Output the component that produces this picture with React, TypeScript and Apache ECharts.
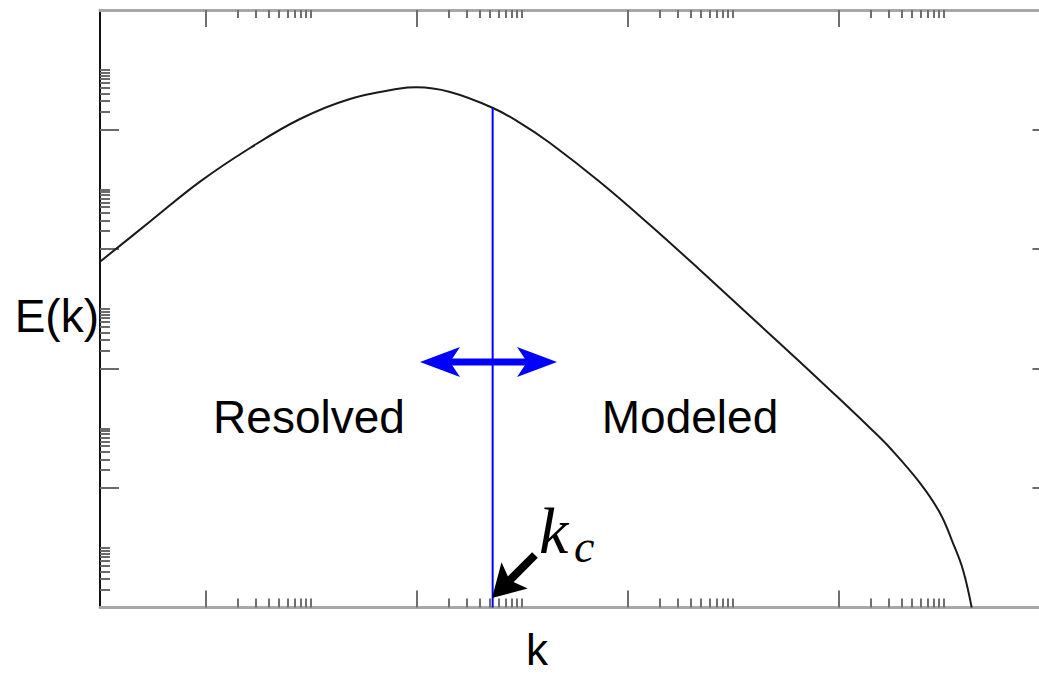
import React, { useEffect, useRef } from 'react';
import * as echarts from 'echarts';

// Energy spectrum E(k) (log-log)
const kValues = [0.1, 0.298, 0.887, 2.64, 7.87, 23.4, 69.8, 100, 208, 531, 957, 1841, 5483, 16330, 48640, 144900, 431500, 830000, 1990000, 3080000, 5930000, 9160000, 12160000, 15140000, 18300000];
const energyValues = [6.12e-5, 2.88e-4, 1.34e-3, 4.9e-3, 1.5e-2, 3.24e-2, 4.85e-2, 5.08e-2, 4.24e-2, 2.29e-2, 1.29e-2, 5.94e-3, 1.32e-3, 2.52e-4, 4.45e-5, 7.57e-6, 1.28e-6, 4.37e-7, 1.01e-7, 4.67e-8, 1.21e-8, 3.82e-9, 1.2e-9, 4.25e-10, 1e-10];

// cutoff wavenumber k_c
const kc = 527;
const kcTopE = 2.29e-2;

// blue double arrow: tip positions [k, E]
const doubleArrowLeft = [108, 1.28e-6];
const doubleArrowRight = [2148, 1.28e-6];

// black arrow pointing to k_c: tail and tip [k, E]
const kcArrowTail = [1327, 7.57e-10];
const kcArrowTip = [520, 1.44e-10];

// axis extents
const xMin = 0.1;
const xMax = 1e8;
const yMin = 1e-10;
const yMax = 1;

// tick positions
const xMajorTicks = [1, 100, 1e4, 1e6];
const yMajorTicks = [1e-8, 1e-6, 1e-4, 1e-2];
const minorMultipliers = [2, 3, 4, 5, 6, 7, 8, 9, 10];
const xMinorBases = [1, 100, 1e4, 1e6];
const yMinorBases = [1e-10, 1e-8, 1e-6, 1e-4, 1e-2];

const xMinorTicks = xMinorBases.flatMap((b) => minorMultipliers.map((m) => m * b));
const yMinorTicks = yMinorBases.flatMap((b) => minorMultipliers.map((m) => m * b));

const TEXT_FONT = 'Liberation Sans, Arial, Helvetica, sans-serif';
const MATH_FONT = 'Liberation Serif, DejaVu Serif, serif';

function xAxisDef(position: 'top' | 'bottom', ticks: number[], len: number, showLine: boolean) {
  return {
    type: 'log',
    position,
    min: xMin,
    max: xMax,
    axisLine: { show: showLine, lineStyle: { color: '#a8a8a8', width: 3 } },
    axisTick: { show: true, inside: true, length: len, customValues: ticks, lineStyle: { color: '#6f6f6f', width: 2 } },
    axisLabel: { show: false },
    splitLine: { show: false },
    minorTick: { show: false },
  };
}

function yAxisDef(position: 'left' | 'right', ticks: number[], len: number, showLine: boolean, lineColor: string) {
  return {
    type: 'log',
    position,
    min: yMin,
    max: yMax,
    axisLine: { show: showLine, lineStyle: { color: lineColor, width: 2 } },
    axisTick: { show: true, inside: true, length: len, customValues: ticks, lineStyle: { color: '#6a6a6a', width: 2 } },
    axisLabel: { show: false },
    splitLine: { show: false },
    minorTick: { show: false },
  };
}

type Pt = number[];

// arrowhead polygon: tip, direction from `from` to tip
function headPoints(tip: Pt, from: Pt, len: number, width: number, notch: number) {
  const dx = tip[0] - from[0];
  const dy = tip[1] - from[1];
  const d = Math.hypot(dx, dy) || 1;
  const ux = dx / d;
  const uy = dy / d;
  const nx = -uy;
  const ny = ux;
  const bx = tip[0] - ux * len;
  const by = tip[1] - uy * len;
  return {
    points: [
      [tip[0], tip[1]],
      [bx + (nx * width) / 2, by + (ny * width) / 2],
      [tip[0] - ux * len * notch, tip[1] - uy * len * notch],
      [bx - (nx * width) / 2, by - (ny * width) / 2],
    ],
    notchPt: [tip[0] - ux * len * notch, tip[1] - uy * len * notch],
  };
}

function makeArrowRenderer(color: string, shaftWidth: number, headLen: number, headWidth: number, notch: number, double: boolean) {
  return (params: any, api: any) => {
    const a = api.coord([api.value(0), api.value(1)]);
    const b = api.coord([api.value(2), api.value(3)]);
    const children: any[] = [];
    const hb = headPoints(b, a, headLen, headWidth, notch);
    let start = a;
    if (double) {
      const ha = headPoints(a, b, headLen, headWidth, notch);
      start = ha.notchPt;
      children.push({ type: 'polygon', shape: { points: ha.points }, style: { fill: color } });
    }
    children.push({
      type: 'line',
      shape: { x1: start[0], y1: start[1], x2: hb.notchPt[0], y2: hb.notchPt[1] },
      style: { stroke: color, lineWidth: shaftWidth },
    });
    children.push({ type: 'polygon', shape: { points: hb.points }, style: { fill: color } });
    return { type: 'group', children };
  };
}

export default function App() {
  const ref = useRef<HTMLDivElement>(null);

  useEffect(() => {
    if (!ref.current) return;
    const chart = echarts.init(ref.current, undefined, { renderer: 'svg' });
    const curve = kValues.map((k, i) => [k, energyValues[i]]);

    chart.setOption({
      animation: false,
      backgroundColor: '#ffffff',
      grid: { left: 100, width: 949.5, top: 10, height: 597.5, containLabel: false, outerBoundsMode: 'none' },
      xAxis: [
        xAxisDef('bottom', xMajorTicks, 17, true),
        xAxisDef('bottom', xMinorTicks, 9, false),
        xAxisDef('top', xMajorTicks, 17, true),
        xAxisDef('top', xMinorTicks, 8, false),
      ],
      yAxis: [
        yAxisDef('left', yMajorTicks, 19, true, '#111111'),
        yAxisDef('left', yMinorTicks, 10, false, '#111111'),
        yAxisDef('right', yMajorTicks, 17, true, '#a8a8a8'),
        yAxisDef('right', yMinorTicks, 9, false, '#a8a8a8'),
      ],
      series: [
        {
          type: 'line',
          xAxisIndex: 0,
          yAxisIndex: 0,
          data: curve,
          showSymbol: false,
          smooth: 0.4,
          lineStyle: { color: '#1a1a1a', width: 2 },
          z: 3,
        },
        {
          type: 'line',
          xAxisIndex: 0,
          yAxisIndex: 0,
          data: [[kc, yMin], [kc, kcTopE]],
          showSymbol: false,
          lineStyle: { color: '#0000ff', width: 2 },
          z: 4,
        },
        {
          type: 'custom',
          coordinateSystem: 'cartesian2d',
          xAxisIndex: 0,
          yAxisIndex: 0,
          clip: false,
          encode: { x: [0, 2], y: [1, 3] },
          data: [[doubleArrowLeft[0], doubleArrowLeft[1], doubleArrowRight[0], doubleArrowRight[1]]],
          renderItem: makeArrowRenderer('#0000ff', 7, 40, 30, 0.75, true),
          z: 5,
        },
        {
          type: 'custom',
          coordinateSystem: 'cartesian2d',
          xAxisIndex: 0,
          yAxisIndex: 0,
          clip: false,
          encode: { x: [0, 2], y: [1, 3] },
          data: [[kcArrowTail[0], kcArrowTail[1], kcArrowTip[0], kcArrowTip[1]]],
          renderItem: makeArrowRenderer('#000000', 8, 32, 37, 0.78, false),
          z: 5,
        },
      ],
      graphic: [
        {
          type: 'text',
          x: 99,
          y: 316,
          style: { text: 'E(k)', font: `46px ${TEXT_FONT}`, fill: '#000', align: 'right', verticalAlign: 'middle' },
        },
        {
          type: 'text',
          x: 537,
          y: 649,
          style: { text: 'k', font: `44px ${TEXT_FONT}`, fill: '#000', align: 'center', verticalAlign: 'middle' },
        },
        {
          type: 'text',
          x: 309,
          y: 417,
          style: { text: 'Resolved', font: `46px ${TEXT_FONT}`, fill: '#000', align: 'center', verticalAlign: 'middle' },
        },
        {
          type: 'text',
          x: 690,
          y: 417,
          style: { text: 'Modeled', font: `46px ${TEXT_FONT}`, fill: '#000', align: 'center', verticalAlign: 'middle' },
        },
        {
          type: 'text',
          x: 539,
          y: 530,
          style: { text: 'k', font: `italic 66px ${MATH_FONT}`, fill: '#000', align: 'left', verticalAlign: 'middle' },
        },
        {
          type: 'text',
          x: 574,
          y: 546,
          style: { text: 'c', font: `italic 46px ${MATH_FONT}`, fill: '#000', align: 'left', verticalAlign: 'middle' },
        },
      ],
    });

    return () => chart.dispose();
  }, []);

  return (
    <div
      ref={ref}
      style={{ position: 'fixed', left: 0, top: 0, width: 1039, height: 674, background: '#fff' }}
    />
  );
}
